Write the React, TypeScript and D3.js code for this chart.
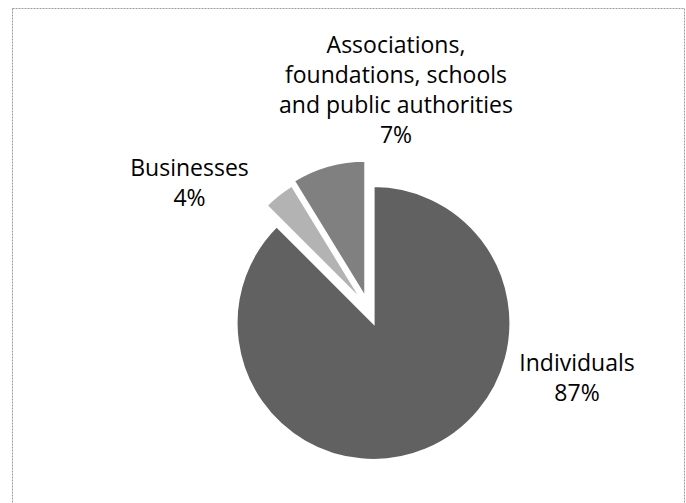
import React from "react";
import * as d3 from "d3";

const categories = ["Individuals", "Businesses", "Associations, foundations, schools and public authorities"];
const values = [87.5, 3.75, 8.75];
const labelLines = [
  ["Individuals", "87%"],
  ["Businesses", "4%"],
  ["Associations,", "foundations, schools", "and public authorities", "7%"],
];

const W = 686;
const H = 503;
const cx = 373.5;
const cy = 323;
const R = 137;
const colors = ["#616161", "#b3b3b3", "#808080"];
// explosion: distance (px) and direction (degrees, clockwise from 12 o'clock)
const explodeDist = [0, 23, 26.7];
const explodeDir = [0, -26, -17.7];
const labelPos = [
  { x: 577, y: 371 },
  { x: 189.5, y: 176 },
  { x: 396, y: 53 },
];
const lineH = 30;
const fontFamily = "'Open Sans', Lato, sans-serif";
const fontSize = 23;

export default function App() {
  const data = categories.map((c, i) => ({ name: c, value: values[i], i }));
  const pie = d3
    .pie<any>()
    .sort(null)
    .value((d) => d.value);
  const arcs = pie(data);
  const arcGen = d3.arc<any>().innerRadius(0).outerRadius(R);

  return (
    <svg
      width={W}
      height={H}
      style={{ position: "absolute", left: 0, top: 0, background: "#fff" }}
    >
      <rect
        x={12.5}
        y={8.5}
        width={672}
        height={520}
        fill="#fff"
        stroke="#9a9a9a"
        strokeWidth={1}
        strokeDasharray="2 1"
      />
      <g transform={`translate(${cx},${cy})`}>
        {arcs.map((a, k) => {
          const i = a.data.i;
          const ang = (explodeDir[i] * Math.PI) / 180;
          const dx = explodeDist[i] * Math.sin(ang);
          const dy = -explodeDist[i] * Math.cos(ang);
          return (
            <path
              key={k}
              d={arcGen(a) as string}
              transform={`translate(${dx},${dy})`}
              fill={colors[i]}
              stroke="#fff"
              strokeWidth={2.2}
              strokeLinejoin="miter"
            />
          );
        })}
      </g>
      {labelLines.map((lines, i) => (
        <text
          key={i}
          x={labelPos[i].x}
          y={labelPos[i].y}
          textAnchor="middle"
          fontFamily={fontFamily}
          fontSize={fontSize}
          fill="#000"
        >
          {lines.map((l, j) => (
            <tspan key={j} x={labelPos[i].x} dy={j === 0 ? 0 : lineH}>
              {l}
            </tspan>
          ))}
        </text>
      ))}
    </svg>
  );
}
